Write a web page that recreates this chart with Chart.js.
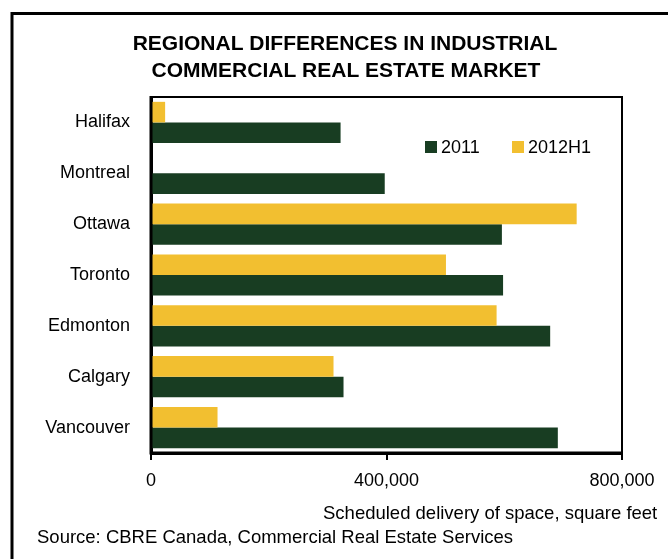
<!DOCTYPE html>
<html>
<head>
<meta charset="utf-8">
<script src="https://cdn.jsdelivr.net/npm/chart.js@4"></script>
<style>
  html, body { margin: 0; padding: 0; background: #fff; }
  #wrap { width: 668px; height: 559px; }
</style>
</head>
<body>
<div id="wrap"><canvas id="grafica" width="668" height="559"></canvas></div>
<script>
const ciudades = ["Halifax", "Montreal", "Ottawa", "Toronto", "Edmonton", "Calgary", "Vancouver"];
const valores2011 = [322000, 397000, 596000, 598000, 678000, 327000, 691000];
const valores2012H1 = [24000, 0, 723000, 501000, 587000, 310000, 113000];
const ticksX = [0, 400000, 800000];

const VERDE = "#183d22";
const AMARILLO = "#f2bf30";
const FUENTE = "'Liberation Sans', Arial, sans-serif";

// textos y marcos dibujados a mano
const decoracion = {
  id: "decoracion",
  afterDraw(chart) {
    const ctx = chart.ctx;
    const a = chart.chartArea;
    ctx.save();

    // marco exterior
    ctx.strokeStyle = "#000";
    ctx.lineWidth = 3;
    ctx.beginPath();
    ctx.moveTo(12, 570);
    ctx.lineTo(12, 13.5);
    ctx.lineTo(680, 13.5);
    ctx.stroke();

    // borde superior y derecho del area
    ctx.lineWidth = 2;
    ctx.beginPath();
    ctx.moveTo(a.left, a.top);
    ctx.lineTo(a.right, a.top);
    ctx.lineTo(a.right, a.bottom);
    ctx.stroke();

    // ejes encima de las barras
    ctx.lineWidth = 3;
    ctx.beginPath();
    ctx.moveTo(a.left, a.top - 1);
    ctx.lineTo(a.left, a.bottom);
    ctx.lineTo(a.right + 1, a.bottom);
    ctx.stroke();

    // titulo
    ctx.fillStyle = "#000";
    ctx.textAlign = "center";
    ctx.textBaseline = "middle";
    ctx.font = "bold 21px " + FUENTE;
    ctx.fillText("REGIONAL DIFFERENCES IN INDUSTRIAL", 345, 44);
    ctx.fillText("COMMERCIAL REAL ESTATE MARKET", 346, 71);

    // leyenda
    ctx.font = "18px " + FUENTE;
    ctx.textAlign = "left";
    const leyenda = [
      { txt: "2011", color: VERDE, x: 425 },
      { txt: "2012H1", color: AMARILLO, x: 512 }
    ];
    leyenda.forEach(l => {
      ctx.fillStyle = l.color;
      ctx.fillRect(l.x, 141, 12, 12);
      ctx.fillStyle = "#000";
      ctx.fillText(l.txt, l.x + 16, 148);
    });

    // titulo del eje y fuente
    ctx.font = "18.5px " + FUENTE;
    ctx.fillText("Scheduled delivery of space, square feet", 323, 514);
    ctx.fillText("Source: CBRE Canada, Commercial Real Estate Services", 37, 538);

    ctx.restore();
  }
};

new Chart(document.getElementById("grafica"), {
  type: "bar",
  data: {
    labels: ciudades,
    datasets: [
      { label: "2012H1", data: valores2012H1, backgroundColor: AMARILLO },
      { label: "2011", data: valores2011, backgroundColor: VERDE }
    ]
  },
  options: {
    indexAxis: "y",
    responsive: false,
    animation: false,
    layout: { padding: { top: 97, right: 46, bottom: 70, left: 0 } },
    datasets: { bar: { categoryPercentage: 0.81, barPercentage: 1.0 } },
    plugins: {
      legend: { display: false },
      title: { display: false },
      tooltip: { enabled: false }
    },
    scales: {
      x: {
        min: 0,
        max: 800000,
        afterBuildTicks: s => { s.ticks = ticksX.map(v => ({ value: v })); },
        afterFit: s => { s.height = 36; },
        ticks: {
          color: "#000",
          font: { family: FUENTE, size: 18 },
          padding: 10,
          maxRotation: 0,
          callback: v => v.toLocaleString("en-US")
        },
        grid: { drawOnChartArea: false, drawTicks: true, tickLength: 7, color: "#000", lineWidth: 2 },
        border: { display: true, color: "#000", width: 3 }
      },
      y: {
        afterFit: s => { s.width = 151; },
        ticks: {
          color: "#000",
          font: { family: FUENTE, size: 18 },
          padding: 21
        },
        grid: { drawOnChartArea: false, drawTicks: false },
        border: { display: true, color: "#000", width: 3 }
      }
    }
  },
  plugins: [decoracion]
});
</script>
</body>
</html>
